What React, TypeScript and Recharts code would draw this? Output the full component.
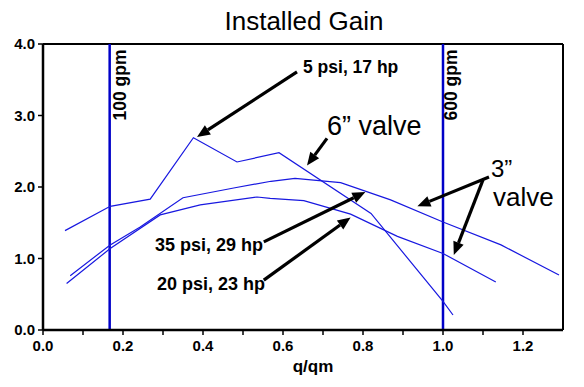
import React from "react";
import { LineChart, Line, XAxis, YAxis, ReferenceLine } from "recharts";

// 6" valve, 5 psi 17 hp
const sixX = [0.055, 0.168, 0.268, 0.376, 0.485, 0.59, 0.82, 1.0, 1.025];
const sixY = [1.39, 1.73, 1.83, 2.69, 2.35, 2.48, 1.63, 0.4, 0.21];

// 3" valve, 35 psi 29 hp
const psi35X = [0.068, 0.168, 0.243, 0.35, 0.48, 0.57, 0.63, 0.744, 0.869, 1.0, 1.145, 1.29];
const psi35Y = [0.76, 1.19, 1.44, 1.85, 1.99, 2.08, 2.12, 2.06, 1.82, 1.51, 1.19, 0.77];

// 3" valve, 20 psi 23 hp
const psi20X = [0.059, 0.168, 0.293, 0.393, 0.535, 0.568, 0.652, 0.769, 0.886, 1.0, 1.132];
const psi20Y = [0.65, 1.14, 1.61, 1.75, 1.86, 1.84, 1.81, 1.62, 1.31, 1.07, 0.67];

const xTicks = [0, 0.1, 0.2, 0.3, 0.4, 0.5, 0.6, 0.7, 0.8, 0.9, 1.0, 1.1, 1.2];
const yTicks = [0, 1, 2, 3, 4];

const gpmLines = [1 / 6, 1.0];

// annotation arrows: [fromX, fromY, toX, toY]
const arrows = [
  [0.635, 3.61, 0.385, 2.7],
  [0.71, 2.68, 0.66, 2.3],
  [1.115, 2.14, 0.936, 1.73],
  [1.1, 2.1, 1.027, 1.05],
  [0.552, 1.233, 0.806, 1.93],
  [0.552, 0.698, 0.769, 1.574],
];

const toData = (xs: number[], ys: number[]) => xs.map((x, i) => ({ x, y: ys[i] }));

const FONT = "'Liberation Sans', Arial, sans-serif";
const CURVE = "#1818e0";

const Arrow = (props: any) => {
  const { x1, y1, x2, y2 } = props;
  const ang = Math.atan2(y2 - y1, x2 - x1);
  const len = 13;
  const hw = 5.5;
  const bx = x2 - len * Math.cos(ang);
  const by = y2 - len * Math.sin(ang);
  const px = -Math.sin(ang) * hw;
  const py = Math.cos(ang) * hw;
  return (
    <g>
      <line x1={x1} y1={y1} x2={bx} y2={by} stroke="#000" strokeWidth={3.2} />
      <polygon points={`${x2},${y2} ${bx + px},${by + py} ${bx - px},${by - py}`} fill="#000" />
    </g>
  );
};

export default function App() {
  return (
    <div style={{ position: "absolute", left: 0, top: 0, width: 584, height: 387, background: "#fff" }}>
      <LineChart width={584} height={387} margin={{ top: 44, right: 21, left: 0, bottom: 0 }}>
        <XAxis
          type="number"
          dataKey="x"
          domain={[0, 1.3]}
          ticks={xTicks}
          allowDataOverflow
          height={57}
          tickSize={5}
          tickMargin={5}
          axisLine={{ stroke: "#000", strokeWidth: 2.5 }}
          tickLine={{ stroke: "#000", strokeWidth: 1.5 }}
          tick={{ fill: "#000", fontSize: 15, fontWeight: "bold", fontFamily: FONT }}
          tickFormatter={(v: number) => (Math.round(v * 10) % 2 === 0 ? v.toFixed(1) : "")}
        />
        <YAxis
          type="number"
          domain={[0, 4]}
          ticks={yTicks}
          width={43}
          tickSize={5}
          tickMargin={3}
          axisLine={{ stroke: "#000", strokeWidth: 2.5 }}
          tickLine={{ stroke: "#000", strokeWidth: 1.5 }}
          tick={{ fill: "#000", fontSize: 15, fontWeight: "bold", fontFamily: FONT }}
          tickFormatter={(v: number) => v.toFixed(1)}
        />
        <ReferenceLine y={4} stroke="#000" strokeWidth={2} ifOverflow="visible" />
        <ReferenceLine x={1.3} stroke="#000" strokeWidth={2} ifOverflow="visible" />
        {gpmLines.map((g) => (
          <ReferenceLine key={g} x={g} stroke="#0000c8" strokeWidth={2.5} />
        ))}
        <Line data={toData(sixX, sixY)} dataKey="y" name="6in" type="linear" stroke={CURVE} strokeWidth={1.2} dot={false} isAnimationActive={false} />
        <Line data={toData(psi35X, psi35Y)} dataKey="y" name="35psi" type="linear" stroke={CURVE} strokeWidth={1.2} dot={false} isAnimationActive={false} />
        <Line data={toData(psi20X, psi20Y)} dataKey="y" name="20psi" type="linear" stroke={CURVE} strokeWidth={1.2} dot={false} isAnimationActive={false} />
        {arrows.map((a, i) => (
          <ReferenceLine
            key={`arrow-${i}`}
            segment={[{ x: a[0], y: a[1] }, { x: a[2], y: a[3] }]}
            shape={Arrow}
            ifOverflow="visible"
          />
        ))}
      </LineChart>
      <svg width={584} height={387} style={{ position: "absolute", left: 0, top: 0, pointerEvents: "none" }} fontFamily={FONT}>
        <text x={304} y={30} textAnchor="middle" fontSize={26}>Installed Gain</text>
        <text x={303} y={73} fontSize={17.5} fontWeight="bold">5 psi, 17 hp</text>
        <text x={327} y={135} fontSize={27}>6” valve</text>
        <text x={491} y={177} fontSize={24}>3”</text>
        <text x={493} y={206} fontSize={26}>valve</text>
        <text x={155} y={251} fontSize={18} fontWeight="bold">35 psi, 29 hp</text>
        <text x={157} y={290} fontSize={18} fontWeight="bold">20 psi, 23 hp</text>
        <text x={313} y={372} textAnchor="middle" fontSize={17} fontWeight="bold">q/qm</text>
        <text transform="translate(126,85) rotate(-90)" textAnchor="middle" fontSize={17.5} fontWeight="bold">100 gpm</text>
        <text transform="translate(457,85) rotate(-90)" textAnchor="middle" fontSize={17.5} fontWeight="bold">600 gpm</text>
      </svg>
    </div>
  );
}
